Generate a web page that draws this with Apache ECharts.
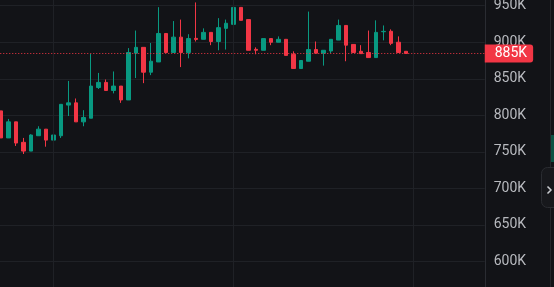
<!DOCTYPE html>
<html>
<head>
<meta charset="utf-8">
<style>
html,body{margin:0;padding:0;background:#121317;overflow:hidden;width:554px;height:287px;}
#chart{position:absolute;left:-10px;top:-40px;width:564px;height:347px;}
</style>
<script src="https://cdn.jsdelivr.net/npm/echarts@6/dist/echarts.min.js"></script>
</head>
<body>
<div id="chart"></div>
<script>
// Hourly candles (values in K)
var opens  = [806,769,791,763,751,772,781,766,772,814,817,791,796,838,845,834,840,821,885,893,859,873,912,886,907,886,905.3,904,913.5,901,919,924.5,947.7,931,890.3,889,905,900,904,883.5,864,874,890,885,888,903,923,897,887.6,886,879,914.4,915,900,887.6];
var closes = [769,791,762,751,773,781,766,773,815,817,791,797,840,845,834,840,821,886,893,859,874,912,886,907,886,905,903.9,913.5,901,920,926,947.7,930,889,889,905,900,904,882,864,875,890,885,889,904,923,896,886,884.4,879,913.5,914.9,898.5,886,884.6];
var lows   = [769,769,758,747,751,772,757,764,769,799,791,785,796,836,834,830,817,821,851,844,855,873,886,886,866,878,901,904,896,889,890,917.6,930,889,883.5,889,896,900,882,864,864,874,885,868,885,903,874,886,884.4,879,879,902.6,896,886,884.6];
var highs  = [806,795,791,769,774,785,781,773,815,847,823,807,884,858,849,860,840,892,916,893,899,948,912,929,931,911,954.5,919,913.5,933,931,957,947.7,931,893,905,905,908,904,887.6,875,942,901,889,904,931,923,897,896,916,930,923,917.6,908,887.6];
var emptySlots = 10;
var lastPrice = 884.6;
var yTicks = {min: 550, max: 1000, step: 50};

// hourly category labels, first candle at 17:00
var categories = [];
var totalSlots = opens.length + emptySlots;
for (var i = 0; i < totalSlots; i++) {
  var h = (17 + i) % 24;
  var d = 10 + Math.floor((17 + i) / 24);
  categories.push('05-' + d + ' ' + (h < 10 ? '0' + h : h) + ':00');
}
var candleData = [];
for (var j = 0; j < totalSlots; j++) {
  if (j < opens.length) candleData.push([opens[j]*1000, closes[j]*1000, lows[j]*1000, highs[j]*1000]);
  else candleData.push('-');
}
var dayLines = [];
categories.forEach(function(c){ if (/ 00:00$/.test(c)) dayLines.push({xAxis: c}); });

var UP = '#089981', DOWN = '#F23645', GRID = '#1f2126', BG = '#121317';
var OX = 10, OY = 40; // container offset (page -> container coords)
var chart = echarts.init(document.getElementById('chart'), null, {renderer: 'canvas'});
chart.setOption({
  backgroundColor: BG,
  animation: false,
  grid: {left: OX - 2.75, right: 69.25, top: OY - 30.8, bottom: 347 - OY - 297.9},
  xAxis: {
    type: 'category', data: categories, boundaryGap: true,
    axisLine: {show: false}, axisTick: {show: false}, axisLabel: {show: false}, splitLine: {show: false}
  },
  yAxis: {
    type: 'value', position: 'right',
    min: yTicks.min*1000, max: yTicks.max*1000, interval: yTicks.step*1000,
    axisLine: {show: true, lineStyle: {color: '#2a2c32', width: 1}},
    axisTick: {show: false},
    splitLine: {show: true, lineStyle: {color: GRID, width: 1}},
    axisLabel: {
      margin: 9, color: '#b8babf', fontSize: 14, fontFamily: 'Roboto, "Liberation Sans", sans-serif',
      formatter: function(v){ return (v/1000) + 'K'; }
    }
  },
  series: [
    {
      type: 'line', data: [], z: 1, silent: true,
      markLine: {
        silent: true, symbol: ['none','none'], animation: false,
        label: {show: false},
        lineStyle: {color: GRID, type: 'solid', width: 1},
        data: dayLines
      }
    },
    {
      type: 'candlestick', data: candleData, barWidth: 4, z: 2,
      itemStyle: {color: UP, color0: DOWN, borderColor: UP, borderColor0: DOWN, borderWidth: 1},
      markLine: {
        silent: true, symbol: ['none','none'], animation: false,
        data: [{
          yAxis: lastPrice*1000,
          lineStyle: {color: DOWN, type: [1,2], width: 1},
          label: {
            show: true, position: 'end', distance: 0,
            formatter: function(p){ return Math.round(p.value/1000) + 'K'; },
            backgroundColor: DOWN, color: '#ffffff', fontSize: 14,
            fontFamily: 'Roboto, "Liberation Sans", sans-serif',
            padding: [2, 6, 2, 10], borderRadius: [0, 3, 3, 0]
          }
        }]
      }
    }
  ],
  graphic: [
    {type: 'line', shape: {x1: OX + 550.5, y1: 0, x2: OX + 550.5, y2: 347}, style: {stroke: '#24262b', lineWidth: 1}, z: 10},
    {type: 'rect', shape: {x: OX + 551, y: OY + 135, width: 4, height: 27}, style: {fill: '#0c5244'}, z: 10},
    {type: 'rect', shape: {x: OX + 541.5, y: OY + 167.5, width: 20, height: 40, r: 6}, style: {fill: '#17181c', stroke: '#2a2c31', lineWidth: 1}, z: 11},
    {type: 'polyline', shape: {points: [[OX + 547.5, OY + 186.5],[OX + 551, OY + 190],[OX + 547.5, OY + 193.5]]}, style: {stroke: '#c9cbd0', lineWidth: 1.5, fill: null}, z: 12}
  ]
});
</script>
</body>
</html>
